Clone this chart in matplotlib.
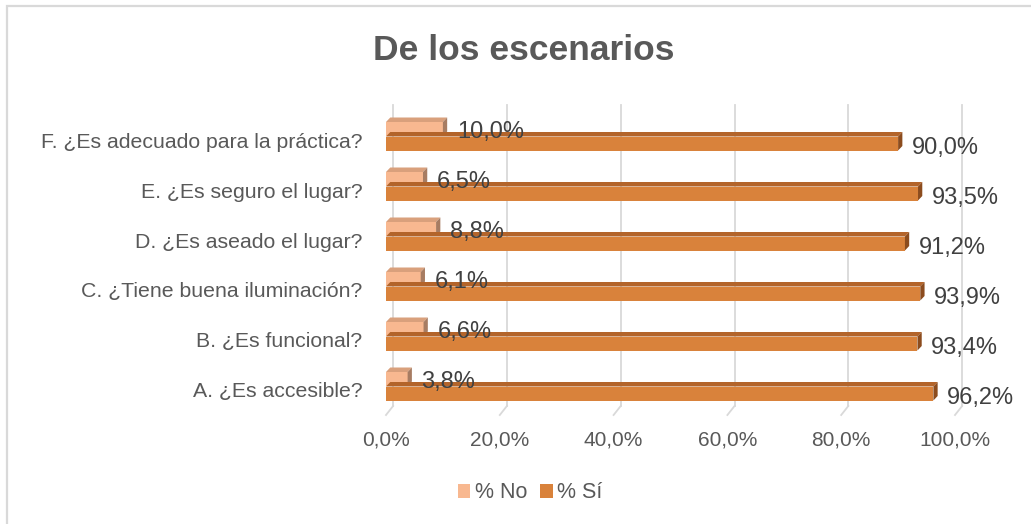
import matplotlib
matplotlib.use("Agg")
import matplotlib.pyplot as plt
from matplotlib.patches import Patch, Rectangle

# ---------------- Data ----------------
categories = [
    "A. ¿Es accesible?",
    "B. ¿Es funcional?",
    "C. ¿Tiene buena iluminación?",
    "D. ¿Es aseado el lugar?",
    "E. ¿Es seguro el lugar?",
    "F. ¿Es adecuado para la práctica?",
]
pct_no = [3.8, 6.6, 6.1, 8.8, 6.5, 10.0]
pct_si = [96.2, 93.4, 93.9, 91.2, 93.5, 90.0]
x_ticks = [0, 20, 40, 60, 80, 100]
series_names = ["% No", "% Sí"]

# ---------------- Style ----------------
FONT = "Liberation Sans"
TEXT_GREY = "#595959"
LABEL_GREY = "#404040"
GRID = "#d9d9d9"
NO_FRONT, NO_TOP, NO_SIDE = "#f8b890", "#d9a07c", "#a77c62"
SI_FRONT, SI_TOP, SI_SIDE = "#d9823b", "#b3642a", "#8c4c1e"

BAR_H = 0.28
NO_OFF, SI_OFF = 0.22, -0.07
BAR_DX, BAR_DY = 0.75, 0.09      # bar depth (data units)
GRID_DX, GRID_DY = 1.25, 0.18    # floor depth (data units)

plt.rcParams["font.family"] = [FONT, "DejaVu Sans"]


def fmt(v):
    return f"{v:.1f}".replace(".", ",") + "%"


def bar3d(ax, y, v, front, top, side):
    b, t = y - BAR_H / 2, y + BAR_H / 2
    ax.barh(y, v, height=BAR_H, color=front, zorder=3)
    ax.fill([0, v, v + BAR_DX, BAR_DX], [t, t, t + BAR_DY, t + BAR_DY],
            color=top, lw=0, zorder=3)
    ax.fill([v, v + BAR_DX, v + BAR_DX, v], [b, b + BAR_DY, t + BAR_DY, t],
            color=side, lw=0, zorder=3)


fig = plt.figure(figsize=(10.31, 5.24), dpi=100)
fig.patches.append(Rectangle((7 / 1031, -0.1), 2, 1.1 - 6 / 524, transform=fig.transFigure,
                             fill=False, edgecolor=GRID, lw=1.6))

ax = fig.add_axes([386 / 1031, 1 - 415 / 524, 569 / 1031, 310 / 524])
ax.set_xlim(0, 100)
ax.set_ylim(-0.5, 5.7)

ylo, yhi = -0.5, 5.7
for x in x_ticks:
    ax.plot([x + GRID_DX, x + GRID_DX], [ylo + GRID_DY, yhi], color=GRID, lw=1.3,
            zorder=0, clip_on=False)
    ax.plot([x, x + GRID_DX], [ylo, ylo + GRID_DY], color=GRID, lw=1.3,
            zorder=0, clip_on=False)

for i, (vn, vs) in enumerate(zip(pct_no, pct_si)):
    bar3d(ax, i + NO_OFF, vn, NO_FRONT, NO_TOP, NO_SIDE)
    bar3d(ax, i + SI_OFF, vs, SI_FRONT, SI_TOP, SI_SIDE)
    ax.annotate(fmt(vn), (vn, i + NO_OFF), xytext=(10, -2), textcoords="offset points",
                va="center", ha="left", fontsize=17, color=LABEL_GREY, zorder=5)
    ax.annotate(fmt(vs), (vs, i + SI_OFF), xytext=(10, -3), textcoords="offset points",
                va="center", ha="left", fontsize=17, color=LABEL_GREY, zorder=5)

ax.set_xticks(x_ticks)
ax.set_xticklabels([fmt(v) for v in x_ticks])
ax.set_yticks(range(len(categories)))
ax.set_yticklabels(categories)
ax.tick_params(axis="x", length=0, pad=11, labelsize=15, labelcolor=TEXT_GREY)
ax.tick_params(axis="y", length=0, pad=17, labelsize=15.3, labelcolor=TEXT_GREY)
for s in ax.spines.values():
    s.set_visible(False)
ax.patch.set_alpha(0)

fig.text(0.508, 1 - 50 / 524, "De los escenarios", ha="center", va="center",
         fontsize=25.5, fontweight="bold", color=TEXT_GREY)

handles = [Patch(facecolor=NO_FRONT, edgecolor="none"),
           Patch(facecolor=SI_FRONT, edgecolor="none")]
fig.legend(handles, series_names, loc="center", bbox_to_anchor=(530 / 1031, 1 - 493 / 524),
           ncol=2, frameon=False, fontsize=15.5, labelcolor=TEXT_GREY,
           handlelength=0.6, handleheight=0.6, handletextpad=0.2, columnspacing=0.6)

fig.savefig("out.png", dpi=100, facecolor="white")
